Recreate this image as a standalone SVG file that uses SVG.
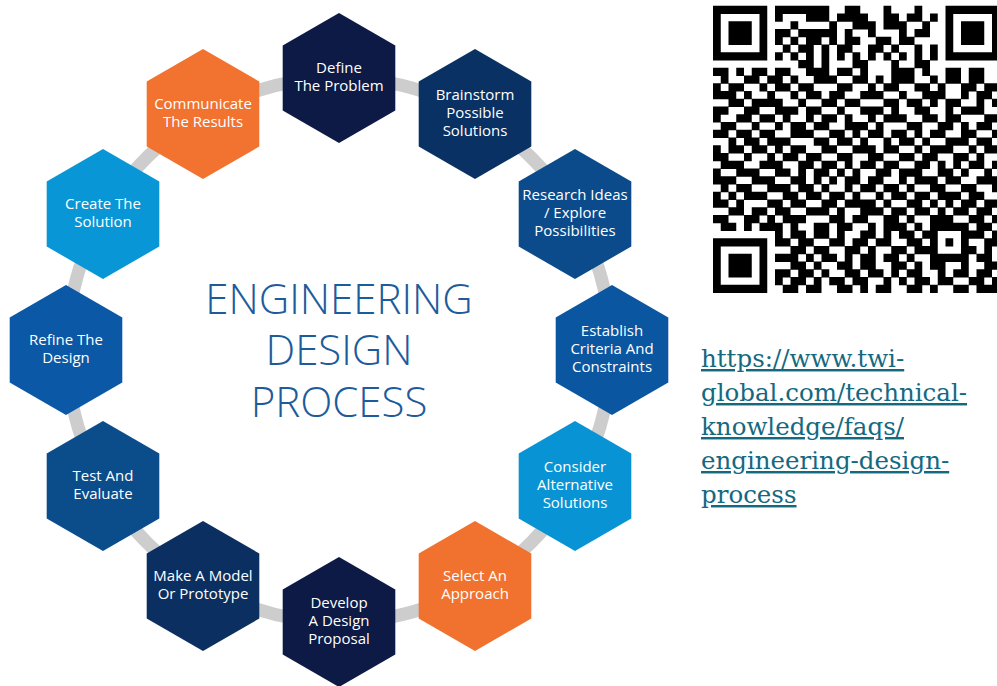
<svg xmlns="http://www.w3.org/2000/svg" width="997" height="686" viewBox="0 0 997 686">
<style>
.lbl{font-family:"Open Sans","Noto Sans",sans-serif;font-size:15px;fill:#ffffff;text-anchor:middle}
.title{font-family:"Open Sans","Noto Sans",sans-serif;font-weight:300;font-size:42px;fill:#1d5b9b;text-anchor:middle}
.link{font-family:"DejaVu Serif","Liberation Serif",serif;font-size:24.5px;fill:#15697f;text-decoration:underline}
</style>
<defs>
<polygon id="hex" points="0,-65 56.3,-32.5 56.3,32.5 0,65 -56.3,32.5 -56.3,-32.5"/>
</defs>
<rect width="997" height="686" fill="#ffffff"/>
<g id="connectors">
<circle cx="339" cy="350" r="272" fill="none" stroke="#cdcdcd" stroke-width="13"/>
</g>
<g id="node-define"><use href="#hex" x="339" y="78" fill="#0c1a45"/><text class="lbl" x="339" y="73">Define</text><text class="lbl" x="339" y="91">The Problem</text></g>
<g id="node-brainstorm"><use href="#hex" x="475" y="114" fill="#0a3163"/><text class="lbl" x="475" y="100">Brainstorm</text><text class="lbl" x="475" y="118">Possible</text><text class="lbl" x="475" y="136">Solutions</text></g>
<g id="node-research"><use href="#hex" x="575" y="214" fill="#0b4b8b"/><text class="lbl" x="575" y="200">Research Ideas</text><text class="lbl" x="575" y="218">/ Explore</text><text class="lbl" x="575" y="236">Possibilities</text></g>
<g id="node-establish"><use href="#hex" x="612" y="350" fill="#0a56a1"/><text class="lbl" x="612" y="336">Establish</text><text class="lbl" x="612" y="354">Criteria And</text><text class="lbl" x="612" y="372">Constraints</text></g>
<g id="node-consider"><use href="#hex" x="575" y="486" fill="#0894d4"/><text class="lbl" x="575" y="472">Consider</text><text class="lbl" x="575" y="490">Alternative</text><text class="lbl" x="575" y="508">Solutions</text></g>
<g id="node-select"><use href="#hex" x="475" y="586" fill="#f0722e"/><text class="lbl" x="475" y="581">Select An</text><text class="lbl" x="475" y="599">Approach</text></g>
<g id="node-develop"><use href="#hex" x="339" y="622" fill="#0c1a45"/><text class="lbl" x="339" y="608">Develop</text><text class="lbl" x="339" y="626">A Design</text><text class="lbl" x="339" y="644">Proposal</text></g>
<g id="node-model"><use href="#hex" x="203" y="586" fill="#0b2f60"/><text class="lbl" x="203" y="581">Make A Model</text><text class="lbl" x="203" y="599">Or Prototype</text></g>
<g id="node-test"><use href="#hex" x="103" y="486" fill="#0b4c8b"/><text class="lbl" x="103" y="481">Test And</text><text class="lbl" x="103" y="499">Evaluate</text></g>
<g id="node-refine"><use href="#hex" x="66" y="350" fill="#0a58a6"/><text class="lbl" x="66" y="345">Refine The</text><text class="lbl" x="66" y="363">Design</text></g>
<g id="node-create"><use href="#hex" x="103" y="214" fill="#0896d6"/><text class="lbl" x="103" y="209">Create The</text><text class="lbl" x="103" y="227">Solution</text></g>
<g id="node-communicate"><use href="#hex" x="203" y="114" fill="#f1732f"/><text class="lbl" x="203" y="109">Communicate</text><text class="lbl" x="203" y="127">The Results</text></g>
<g id="title">
<text class="title" x="339" y="314">ENGINEERING</text>
<text class="title" x="339" y="365">DESIGN</text>
<text class="title" x="339" y="417">PROCESS</text>
</g>
<g id="qr" transform="translate(713,6) scale(7.75)">
<path fill="none" stroke="#000000" stroke-width="1.06" d="
M0 .5h7M8 .5h7M17 .5h2M22 .5h1M26 .5h1M30 .5h7
M0 1.5h1M6 1.5h1M8 1.5h1M12 1.5h3M16 1.5h4M22 1.5h2M25 1.5h2M28 1.5h1M30 1.5h1M36 1.5h1
M0 2.5h1M2 2.5h3M6 2.5h1M10 2.5h1M15 2.5h1M18 2.5h3M22 2.5h3M27 2.5h1M30 2.5h1M32 2.5h3M36 2.5h1
M0 3.5h1M2 3.5h3M6 3.5h1M8 3.5h2M11 3.5h5M17 3.5h1M20 3.5h1M24 3.5h1M26 3.5h2M30 3.5h1M32 3.5h3M36 3.5h1
M0 4.5h1M2 4.5h3M6 4.5h1M8 4.5h1M10 4.5h1M12 4.5h2M15 4.5h1M17 4.5h2M21 4.5h2M24 4.5h2M30 4.5h1M32 4.5h3M36 4.5h1
M0 5.5h1M6 5.5h1M9 5.5h1M11 5.5h2M14 5.5h1M16 5.5h2M20 5.5h2M23 5.5h1M26 5.5h1M28 5.5h1M30 5.5h1M36 5.5h1
M0 6.5h7M8 6.5h1M10 6.5h1M12 6.5h1M14 6.5h1M16 6.5h1M18 6.5h1M20 6.5h1M22 6.5h1M24 6.5h1M26 6.5h1M28 6.5h1M30 6.5h7
M11 7.5h2M14 7.5h1M18 7.5h2M23 7.5h1M26 7.5h2
M0 8.5h2M3 8.5h1M5 8.5h2M8 8.5h2M12 8.5h3M16 8.5h2M19 8.5h1M23 8.5h3M27 8.5h1M30 8.5h2M33 8.5h2
M1 9.5h1M4 9.5h2M7 9.5h2M10 9.5h1M13 9.5h3M18 9.5h2M21 9.5h1M23 9.5h3M28 9.5h1M30 9.5h2M33 9.5h2
M0 10.5h1M2 10.5h2M6 10.5h1M8 10.5h2M11 10.5h2M16 10.5h2M20 10.5h1M22 10.5h2M26 10.5h2M29 10.5h1M32 10.5h2M35 10.5h2
M0 11.5h3M4 11.5h1M7 11.5h1M10 11.5h1M12 11.5h2M15 11.5h2M19 11.5h3M24 11.5h1M27 11.5h3M32 11.5h1M34 11.5h2
M2 12.5h2M5 12.5h4M11 12.5h1M14 12.5h2M17 12.5h2M22 12.5h2M25 12.5h2M28 12.5h1M30 12.5h2M34 12.5h1M36 12.5h1
M0 13.5h2M4 13.5h2M8 13.5h3M12 13.5h2M16 13.5h1M19 13.5h3M23 13.5h1M26 13.5h2M30 13.5h1M32 13.5h3
M0 14.5h1M3 14.5h2M6 14.5h2M9 14.5h1M12 14.5h1M14 14.5h2M17 14.5h1M20 14.5h1M22 14.5h3M27 14.5h2M30 14.5h2M35 14.5h2
M1 15.5h2M5 15.5h1M8 15.5h1M10 15.5h2M13 15.5h2M17 15.5h3M21 15.5h1M25 15.5h2M29 15.5h2M32 15.5h1M34 15.5h2
M0 16.5h2M3 16.5h2M6 16.5h2M10 16.5h3M15 16.5h2M18 16.5h1M20 16.5h2M23 16.5h2M26 16.5h1M28 16.5h2M32 16.5h2M36 16.5h1
M2 17.5h1M4 17.5h2M7 17.5h3M13 17.5h2M16 17.5h2M19 17.5h1M22 17.5h1M24 17.5h2M27 17.5h1M30 17.5h3M34 17.5h2
M0 18.5h1M2 18.5h2M5 18.5h2M8 18.5h1M10 18.5h2M14 18.5h2M18 18.5h3M22 18.5h2M26 18.5h1M28 18.5h3M33 18.5h1M35 18.5h2
M0 19.5h2M4 19.5h1M7 19.5h1M9 19.5h2M12 19.5h2M16 19.5h2M20 19.5h2M24 19.5h2M27 19.5h2M31 19.5h2M34 19.5h1
M1 20.5h3M6 20.5h3M11 20.5h2M14 20.5h2M17 20.5h1M19 20.5h2M22 20.5h2M26 20.5h2M29 20.5h1M31 20.5h1M33 20.5h2M36 20.5h1
M0 21.5h1M3 21.5h3M8 21.5h2M11 21.5h1M13 21.5h2M16 21.5h1M18 21.5h1M21 21.5h2M24 21.5h3M29 21.5h2M32 21.5h1M35 21.5h1
M0 22.5h3M5 22.5h3M10 22.5h2M13 22.5h1M15 22.5h1M17 22.5h2M20 22.5h2M24 22.5h1M26 22.5h3M30 22.5h2M34 22.5h3
M1 23.5h1M3 23.5h2M7 23.5h3M11 23.5h2M14 23.5h1M17 23.5h1M19 23.5h2M22 23.5h2M25 23.5h1M28 23.5h2M32 23.5h2M36 23.5h1
M0 24.5h1M2 24.5h1M4 24.5h3M9 24.5h2M12 24.5h2M15 24.5h2M18 24.5h1M21 24.5h1M23 24.5h2M26 24.5h2M29 24.5h3M33 24.5h2
M0 25.5h2M3 25.5h1M7 25.5h2M10 25.5h2M14 25.5h2M17 25.5h4M22 25.5h1M25 25.5h2M28 25.5h1M30 25.5h1M32 25.5h2M35 25.5h2
M2 26.5h2M5 26.5h2M8 26.5h2M12 26.5h3M16 26.5h1M19 26.5h3M23 26.5h2M26 26.5h2M29 26.5h1M31 26.5h2M34 26.5h2
M0 27.5h2M4 27.5h2M7 27.5h1M9 27.5h3M15 27.5h2M18 27.5h2M22 27.5h2M25 27.5h1M28 27.5h3M33 27.5h2M36 27.5h1
M1 28.5h2M4 28.5h1M6 28.5h3M10 28.5h1M13 28.5h2M16 28.5h2M20 28.5h1M22 28.5h3M26 28.5h1M28 28.5h5M34 28.5h2
M8 29.5h1M10 29.5h2M13 29.5h2M16 29.5h1M19 29.5h2M22 29.5h1M24 29.5h2M27 29.5h2M32 29.5h3M36 29.5h1
M0 30.5h7M8 30.5h2M11 30.5h2M15 30.5h2M18 30.5h2M21 30.5h2M25 30.5h2M28 30.5h1M30 30.5h1M32 30.5h1M35 30.5h2
M0 31.5h1M6 31.5h1M10 31.5h2M13 31.5h2M17 31.5h2M20 31.5h1M23 31.5h2M26 31.5h3M32 31.5h2M35 31.5h1
M0 32.5h1M2 32.5h3M6 32.5h1M8 32.5h3M12 32.5h1M14 32.5h2M17 32.5h1M19 32.5h2M22 32.5h2M25 32.5h1M28 32.5h5M34 32.5h2
M0 33.5h1M2 33.5h3M6 33.5h1M10 33.5h2M13 33.5h1M16 33.5h2M19 33.5h2M23 33.5h2M26 33.5h1M28 33.5h2M32 33.5h1M35 33.5h2
M0 34.5h1M2 34.5h3M6 34.5h1M8 34.5h2M11 34.5h2M14 34.5h1M17 34.5h2M20 34.5h2M23 34.5h1M25 34.5h2M29 34.5h1M31 34.5h2M34 34.5h2
M0 35.5h1M6 35.5h1M8 35.5h1M10 35.5h2M13 35.5h1M15 35.5h2M18 35.5h2M22 35.5h1M24 35.5h1M26 35.5h2M29 35.5h2M33 35.5h2M36 35.5h1
M0 36.5h7M9 36.5h2M12 36.5h2M16 36.5h2M19 36.5h1M21 36.5h2M25 36.5h2M28 36.5h1M31 36.5h2M34 36.5h3"/>
</g>
<g id="link">
<text class="link" x="701" y="367">https://www.twi-</text>
<text class="link" x="701" y="401">global.com/technical-</text>
<text class="link" x="701" y="435">knowledge/faqs/</text>
<text class="link" x="701" y="469">engineering-design-</text>
<text class="link" x="701" y="503">process</text>
</g>
</svg>
